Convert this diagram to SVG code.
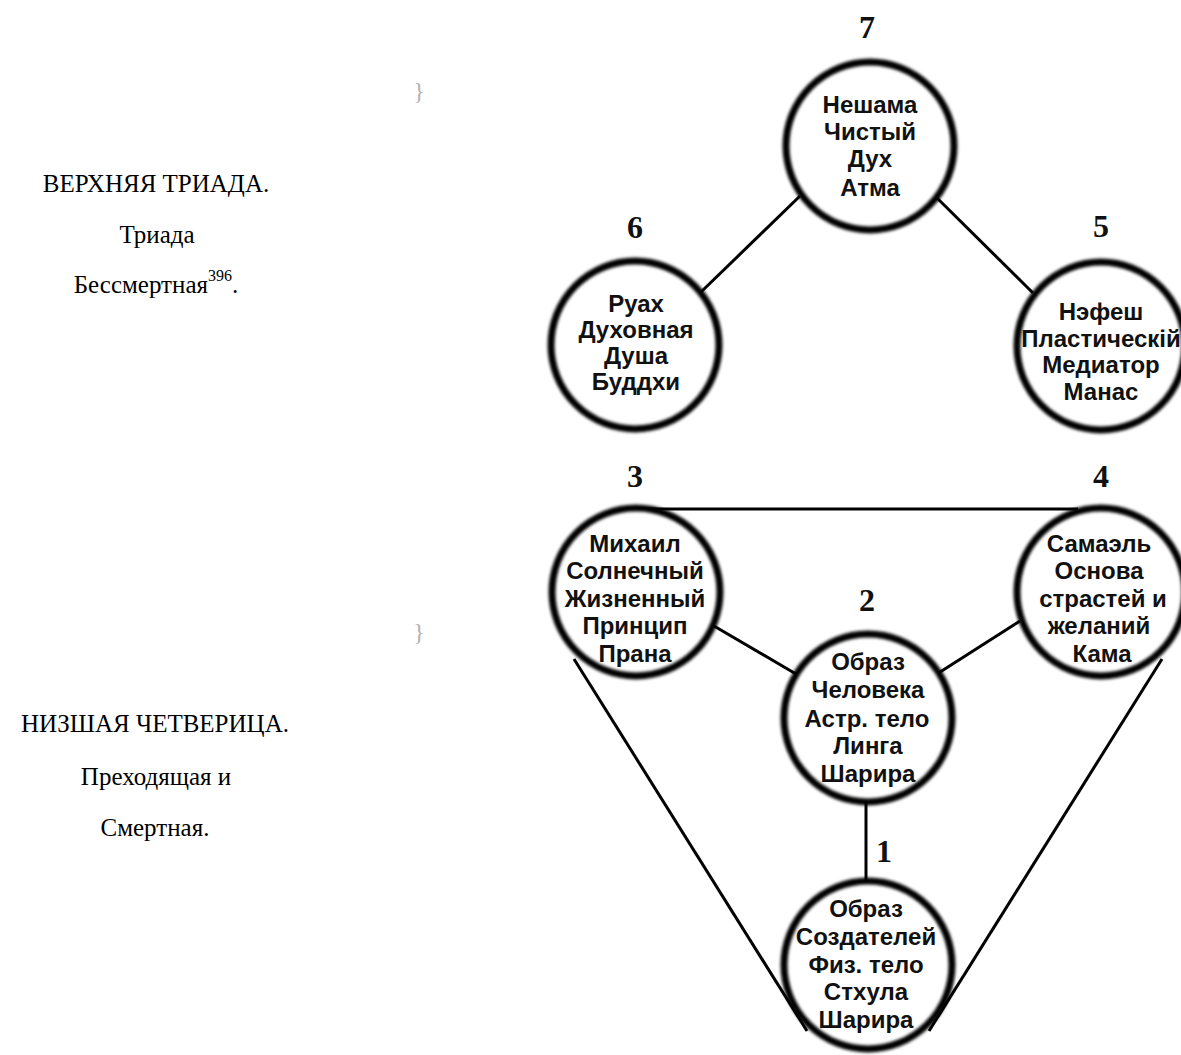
<svg xmlns="http://www.w3.org/2000/svg" width="1181" height="1055" viewBox="0 0 1181 1055">
<defs>
<filter id="soft" x="-20%" y="-20%" width="140%" height="140%"><feGaussianBlur stdDeviation="1.6"/></filter>
</defs>
<style>
.bg{fill:#ffffff}
.fill{fill:#ffffff}
.ring{fill:none;stroke:#000;stroke-width:7;filter:url(#soft)}
.lbl{font-family:"Liberation Sans",Arial,sans-serif;font-weight:bold;font-size:24px;fill:#111;text-anchor:middle}
.num{font-family:"Liberation Serif","Times New Roman",serif;font-weight:bold;font-size:32px;fill:#111;text-anchor:middle}
.side{font-family:"Liberation Serif","Times New Roman",serif;font-size:25px;fill:#000;text-anchor:middle}
.brace{font-family:"Liberation Serif","Times New Roman",serif;font-size:23px;fill:#b0b0b0;text-anchor:middle}
.conn line{stroke:#000;stroke-width:3;stroke-linecap:butt}
</style>
<rect class="bg" x="0" y="0" width="1181" height="1055"/>

<g id="side-text">
<text class="brace" x="419" y="99">}</text>
<text class="brace" x="419" y="640">}</text>
<text class="side" x="156" y="192">ВЕРХНЯЯ ТРИАДА.</text>
<text class="side" x="157" y="243">Триада</text>
<text class="side" x="156" y="293">Бессмертная<tspan font-size="16" dy="-12">396</tspan><tspan dy="12">.</tspan></text>
<text class="side" x="155" y="732">НИЗШАЯ ЧЕТВЕРИЦА.</text>
<text class="side" x="156" y="785">Преходящая и</text>
<text class="side" x="155" y="836">Смертная.</text>
</g>

<g id="connectors" class="conn">
<line x1="800" y1="196" x2="701" y2="292"/>
<line x1="935" y1="196" x2="1033" y2="293"/>
<line x1="636" y1="509" x2="1078" y2="509"/>
<line x1="714" y1="626" x2="796" y2="674"/>
<line x1="1020" y1="621" x2="937" y2="674"/>
<line x1="866" y1="798" x2="866" y2="884"/>
<line x1="574" y1="659" x2="807" y2="1031"/>
<line x1="1162" y1="659" x2="929" y2="1031"/>
</g>

<g id="node7">
<text class="num" x="867" y="38">7</text>
<circle class="fill" cx="870" cy="146" r="84"/>
<circle class="ring" cx="870" cy="146" r="84"/>
<text class="lbl" x="870" y="113">Нешама</text>
<text class="lbl" x="870" y="140">Чистый</text>
<text class="lbl" x="870" y="167">Дух</text>
<text class="lbl" x="870" y="196">Атма</text>
</g>

<g id="node6">
<text class="num" x="635" y="238">6</text>
<circle class="fill" cx="635" cy="345" r="84"/>
<circle class="ring" cx="635" cy="345" r="84"/>
<text class="lbl" x="636" y="312">Руах</text>
<text class="lbl" x="636" y="338">Духовная</text>
<text class="lbl" x="636" y="364">Душа</text>
<text class="lbl" x="636" y="390">Буддхи</text>
</g>

<g id="node5">
<text class="num" x="1101" y="237">5</text>
<circle class="fill" cx="1101" cy="346" r="84"/>
<circle class="ring" cx="1101" cy="346" r="84"/>
<text class="lbl" x="1101" y="320">Нэфеш</text>
<text class="lbl" x="1101" y="347">Пластическій</text>
<text class="lbl" x="1101" y="373">Медиатор</text>
<text class="lbl" x="1101" y="400">Манас</text>
</g>

<g id="node3">
<text class="num" x="635" y="487">3</text>
<circle class="fill" cx="636" cy="592" r="84"/>
<circle class="ring" cx="636" cy="592" r="84"/>
<text class="lbl" x="635" y="552">Михаил</text>
<text class="lbl" x="635" y="579">Солнечный</text>
<text class="lbl" x="635" y="607">Жизненный</text>
<text class="lbl" x="635" y="634">Принцип</text>
<text class="lbl" x="635" y="662">Прана</text>
</g>

<g id="node4">
<text class="num" x="1101" y="487">4</text>
<circle class="fill" cx="1101" cy="592" r="84"/>
<circle class="ring" cx="1101" cy="592" r="84"/>
<text class="lbl" x="1099" y="552">Самаэль</text>
<text class="lbl" x="1099" y="579">Основа</text>
<text class="lbl" x="1103" y="607">страстей и</text>
<text class="lbl" x="1099" y="634">желаний</text>
<text class="lbl" x="1102" y="662">Кама</text>
</g>

<g id="node2">
<text class="num" x="867" y="611">2</text>
<circle class="fill" cx="868" cy="718" r="84"/>
<circle class="ring" cx="868" cy="718" r="84"/>
<text class="lbl" x="868" y="670">Образ</text>
<text class="lbl" x="868" y="698">Человека</text>
<text class="lbl" x="867" y="727">Астр. тело</text>
<text class="lbl" x="868" y="754">Линга</text>
<text class="lbl" x="868" y="782">Шарира</text>
</g>

<g id="node1">
<text class="num" x="884" y="862">1</text>
<circle class="fill" cx="868" cy="965" r="84"/>
<circle class="ring" cx="868" cy="965" r="84"/>
<text class="lbl" x="866" y="917">Образ</text>
<text class="lbl" x="866" y="945">Создателей</text>
<text class="lbl" x="866" y="973">Физ. тело</text>
<text class="lbl" x="866" y="1000">Стхула</text>
<text class="lbl" x="866" y="1028">Шарира</text>
</g>
</svg>
